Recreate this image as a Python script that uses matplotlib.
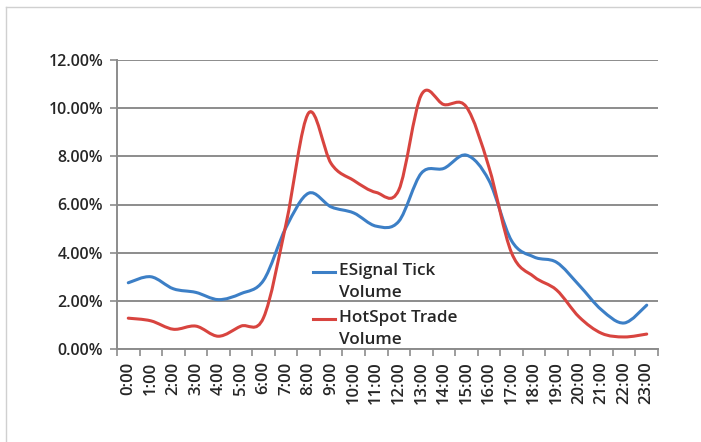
import numpy as np
import matplotlib.pyplot as plt
from matplotlib.path import Path
from matplotlib.patches import PathPatch
from matplotlib.lines import Line2D
from matplotlib.ticker import PercentFormatter

hours = ['%d:00' % h for h in range(24)]

esignal = [2.75, 3.0, 2.5, 2.35, 2.05, 2.3, 2.85, 5.05, 6.47, 5.9, 5.65, 5.1,
           5.3, 7.3, 7.5, 8.05, 7.0, 4.5, 3.82, 3.6, 2.65, 1.62, 1.08, 1.82]
hotspot = [1.28, 1.17, 0.82, 0.95, 0.53, 0.95, 1.3, 5.2, 9.8, 7.7, 7.0, 6.5,
           6.6, 10.55, 10.15, 10.05, 7.55, 4.0, 3.0, 2.45, 1.33, 0.65, 0.5, 0.62]

series = [('ESignal Tick\nVolume', esignal, '#3c7fc6'),
          ('HotSpot Trade\nVolume', hotspot, '#d8443f')]

plt.rcParams['font.family'] = ['Open Sans', 'DejaVu Sans']


def smooth_path(xs, ys):
    # excel style smoothed line: cubic bezier through every point
    pts = np.column_stack([xs, ys])
    n = len(pts)
    verts = [pts[0]]
    codes = [Path.MOVETO]
    for i in range(n - 1):
        p0 = pts[i - 1] if i > 0 else pts[i]
        p1 = pts[i]
        p2 = pts[i + 1]
        p3 = pts[i + 2] if i + 2 < n else pts[i + 1]
        verts += [p1 + (p2 - p0) / 6, p2 - (p3 - p1) / 6, p2]
        codes += [Path.CURVE4] * 3
    return Path(verts, codes)


fig = plt.figure(figsize=(7.01, 4.42), dpi=100)
ax = fig.add_axes([117 / 701, 1 - 349 / 442, 541 / 701, 289 / 442])

x = np.arange(len(hours))
for label, vals, col in series:
    p = smooth_path(x, np.array(vals) / 100)
    ax.add_patch(PathPatch(p, fill=False, edgecolor=col, lw=2.2,
                           capstyle='round', joinstyle='round', zorder=3))

ax.set_xlim(-0.5, 23.5)
ax.set_ylim(0, 0.12)
ax.set_yticks(np.arange(0, 0.121, 0.02))
ax.yaxis.set_major_formatter(PercentFormatter(1.0, decimals=2))
ax.set_xticks(x)
ax.set_xticklabels(hours, rotation=90)
ax.set_xticks(np.arange(-0.5, 24, 1), minor=True)
ax.tick_params(axis='x', which='major', length=0, pad=9)
ax.tick_params(axis='x', which='minor', length=5, color='#8c8c8c', width=1.2)
ax.tick_params(axis='y', length=5, color='#8c8c8c', width=1.2, pad=5)
for lab in ax.get_yticklabels():
    lab.set_fontsize(11.5)
    lab.set_fontweight('semibold')
    lab.set_color('#262626')
for lab in ax.get_xticklabels():
    lab.set_fontsize(12)
    lab.set_fontweight('semibold')
    lab.set_color('#262626')

ax.grid(axis='y', color='#8c8c8c', lw=1.4)
ax.set_axisbelow(True)
for s in ['top', 'right']:
    ax.spines[s].set_visible(False)
for s in ['left', 'bottom']:
    ax.spines[s].set_color('#8c8c8c')
    ax.spines[s].set_linewidth(1.4)

# legend, line level with the first text row like excel
leg_y = [0.266, 0.104]
for (label, vals, col), ly in zip(series, leg_y):
    ax.add_line(Line2D([0.362, 0.403], [ly, ly], transform=ax.transAxes,
                       color=col, lw=2.2, zorder=4))
    ax.text(0.41, ly + 0.03, label, transform=ax.transAxes, va='top',
            ha='left', fontsize=12.3, fontweight='semibold', color='#262626',
            linespacing=1.45, zorder=4)

# faint frame of the chart area
fig.add_artist(Line2D([6 / 701, 1], [1 - 7 / 442] * 2, color='#d0d0d0', lw=1))
fig.add_artist(Line2D([6 / 701] * 2, [0, 1 - 7 / 442], color='#d0d0d0', lw=1))

fig.savefig('out.png', dpi=100)
